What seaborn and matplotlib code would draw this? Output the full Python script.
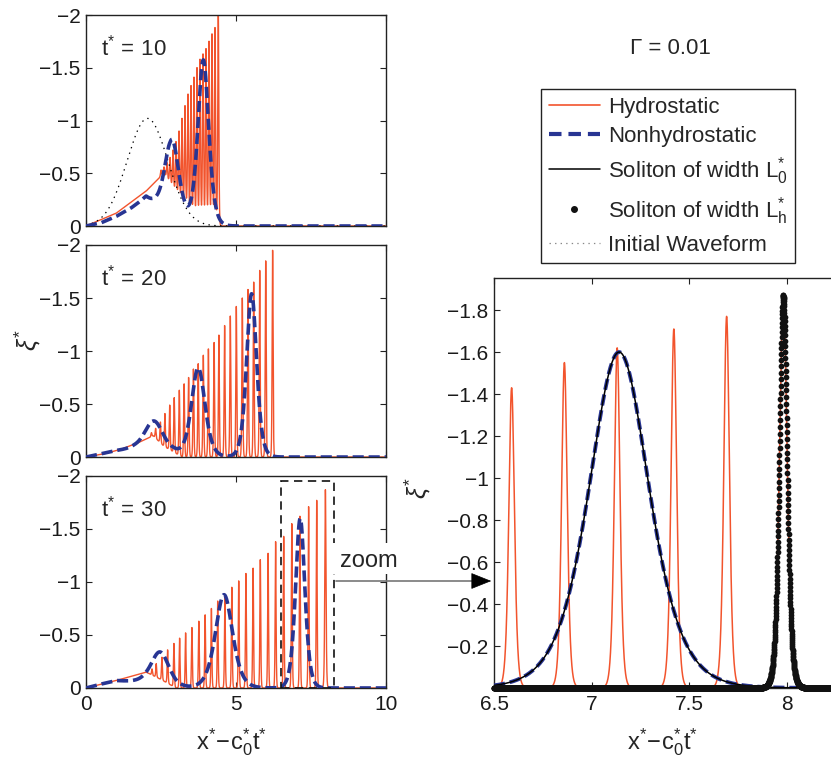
import numpy as np
import pandas as pd
import matplotlib
matplotlib.use("Agg")
import matplotlib.pyplot as plt
import seaborn as sns
from matplotlib.patches import Rectangle, FancyArrowPatch
from matplotlib.lines import Line2D
from matplotlib.ticker import FuncFormatter

# ------------------------------------------------------------------ data
# Hydrostatic solution: crest positions, crest values (xi*), crest widths,
# plus the slowly varying mean level under the wave train.
hyd10_x = [2.50, 2.60, 2.70, 2.80, 2.90, 3.00, 3.10, 3.20, 3.30, 3.40,
           3.50, 3.60, 3.70, 3.80, 3.90, 4.00, 4.10, 4.20, 4.30, 4.41]
hyd10_y = [-0.53, -0.56, -0.60, -0.65, -0.72, -0.80, -0.90, -1.02, -1.14, -1.25,
           -1.33, -1.41, -1.50, -1.58, -1.63, -1.68, -1.75, -1.82, -1.88, -2.05]
hyd10_w = [0.022] * 20
hyd10_bg_x = [0.0, 1.0, 2.0, 2.6, 3.0, 3.6, 4.41]
hyd10_bg_y = [0.0, -0.12, -0.33, -0.50, -0.32, -0.08, -0.05]

hyd20_x = [2.18, 2.32, 2.48, 2.63, 2.79, 2.94, 3.11, 3.27, 3.42, 3.58, 3.74, 3.91,
           4.08, 4.27, 4.43, 4.62, 4.81, 5.01, 5.21, 5.40, 5.59, 5.79, 5.99, 6.22]
hyd20_y = [-0.23, -0.27, -0.33, -0.41, -0.49, -0.56, -0.63, -0.69, -0.75, -0.83, -0.88, -0.96,
           -1.02, -1.08, -1.15, -1.24, -1.33, -1.42, -1.50, -1.58, -1.65, -1.76, -1.85, -1.95]
hyd20_w = [0.02] * 24
hyd20_bg_x = [0.0, 0.6, 1.13, 1.7, 2.24, 2.6, 3.2]
hyd20_bg_y = [0.0, -0.03, -0.07, -0.13, -0.20, -0.10, 0.0]

hyd30_x = [2.20, 2.34, 2.53, 2.72, 2.93, 3.12, 3.32, 3.53, 3.76, 3.97, 4.18, 4.39, 4.63,
           4.86, 5.09, 5.33, 5.57, 5.81, 6.07, 6.32, 6.59, 6.86, 7.13, 7.42, 7.69, 7.98]
hyd30_y = [-0.18, -0.23, -0.29, -0.36, -0.42, -0.47, -0.52, -0.57, -0.63, -0.69, -0.75, -0.82, -0.88,
           -0.95, -1.01, -1.08, -1.13, -1.21, -1.27, -1.38, -1.43, -1.55, -1.62, -1.71, -1.77, -1.87]
hyd30_w = [0.019] * 25 + [0.026]
hyd30_bg_x = [0.0, 1.0, 2.0, 2.5, 3.0]
hyd30_bg_y = [0.0, -0.07, -0.15, -0.08, 0.0]

# Nonhydrostatic solution: solitary-wave crests and mean level
nh10_x = [2.86, 3.91]
nh10_y = [-0.82, -1.57]
nh10_w = [0.32, 0.24]
nh10_bg_x = [0.0, 0.5, 1.0, 1.5, 2.0, 2.3, 2.8]
nh10_bg_y = [0.0, -0.03, -0.09, -0.17, -0.27, -0.18, 0.0]

nh20_x = [2.27, 3.74, 5.52]
nh20_y = [-0.34, -0.84, -1.54]
nh20_w = [0.40, 0.30, 0.22]
nh20_bg_x = [0.0, 0.5, 1.0, 1.6, 2.0, 2.9, 3.3]
nh20_bg_y = [0.0, -0.03, -0.06, -0.08, -0.08, -0.04, 0.0]

nh30_x = [2.47, 4.60, 7.14]
nh30_y = [-0.34, -0.88, -1.60]
nh30_w = [0.40, 0.38, 0.205]
nh30_bg_x = [0.0, 0.4, 1.0, 1.5, 2.0, 3.0]
nh30_bg_y = [0.0, -0.03, -0.07, -0.06, -0.05, 0.0]

# Initial waveform (shown at t* = 10): centre, value, spread
init_x0, init_y0, init_s = 2.05, -1.02, 0.68

# Reference solitons in the zoom panel: centre, value, width
sol_L0 = (7.14, -1.60, 0.205)
sol_Lh = (7.98, -1.87, 0.026)

times = [10, 20, 30]
left_yticks = [-2, -1.5, -1, -0.5, 0]
left_xticks = [0, 5, 10]
zoom_xticks = [6.5, 7, 7.5, 8]
zoom_yticks = [-1.8, -1.6, -1.4, -1.2, -1, -0.8, -0.6, -0.4, -0.2]
zoom_box = (6.5, 8.25, 0.0, -1.95)

# ------------------------------------------------------------------ style
ORANGE = "#F2542D"
BLUE = "#283593"

sns.set_theme(style="ticks")
plt.rcParams.update({
    "font.family": ["Liberation Sans", "DejaVu Sans"],
    "mathtext.fontset": "custom",
    "mathtext.rm": "Liberation Sans",
    "mathtext.it": "Liberation Sans:italic",
    "mathtext.bf": "Liberation Sans:bold",
    "lines.scale_dashes": False,
    "xtick.direction": "in",
    "ytick.direction": "in",
    "xtick.top": True,
    "ytick.right": True,
    "xtick.major.size": 4,
    "ytick.major.size": 4,
    "xtick.major.width": 0.8,
    "ytick.major.width": 0.8,
    "axes.linewidth": 1.0,
    "axes.edgecolor": "#222222",
    "xtick.color": "#222222",
    "ytick.color": "#222222",
    "xtick.labelcolor": "#1a1a1a",
    "ytick.labelcolor": "#1a1a1a",
    "xtick.labelsize": 15,
    "ytick.labelsize": 15,
    "xtick.major.pad": 5,
    "ytick.major.pad": 4,
})


def train(x, px, py, pw, bx, by):
    bg = np.interp(x, bx, by, left=0.0, right=0.0)
    y = bg.copy()
    for xi, yi, wi in zip(px, py, pw):
        base = np.interp(xi, bx, by, left=0.0, right=0.0)
        y += (yi - base) / np.cosh((x - xi) / wi) ** 2
    return y


def fmt(v, _):
    s = f"{v:g}"
    return s.replace("-", "\u2212")


fig = plt.figure(figsize=(8.31, 7.63), dpi=100)

xg = np.linspace(0, 10, 20001)
hyd_sets = [
    (hyd10_x, hyd10_y, hyd10_w, hyd10_bg_x, hyd10_bg_y),
    (hyd20_x, hyd20_y, hyd20_w, hyd20_bg_x, hyd20_bg_y),
    (hyd30_x, hyd30_y, hyd30_w, hyd30_bg_x, hyd30_bg_y),
]
nh_sets = [
    (nh10_x, nh10_y, nh10_w, nh10_bg_x, nh10_bg_y),
    (nh20_x, nh20_y, nh20_w, nh20_bg_x, nh20_bg_y),
    (nh30_x, nh30_y, nh30_w, nh30_bg_x, nh30_bg_y),
]
positions = [
    (0.1035, 0.7038, 0.361, 0.2765),
    (0.1035, 0.4010, 0.361, 0.2779),
    (0.1035, 0.0983, 0.361, 0.2779),
]

DASH = (8, 3.5)

for i, (t, pos) in enumerate(zip(times, positions)):
    ax = fig.add_axes(pos)
    hyd = train(xg, *hyd_sets[i])
    nh = train(xg, *nh_sets[i])
    df = pd.DataFrame({"x": xg, "hyd": hyd, "nh": nh})
    sns.lineplot(data=df, x="x", y="hyd", ax=ax, color=ORANGE, lw=1.0,
                 estimator=None, sort=False, zorder=2)
    if t == 10:
        init = init_y0 * np.exp(-((xg - init_x0) ** 2) / (2 * init_s ** 2))
        sns.lineplot(x=xg, y=init, ax=ax, color="black", lw=0.9,
                     linestyle=(0, (1, 3.2)), estimator=None, sort=False, zorder=2.5)
    sns.lineplot(data=df, x="x", y="nh", ax=ax, color=BLUE, lw=2.6,
                 estimator=None, sort=False, zorder=3)
    ax.lines[-1].set_dashes(DASH)
    ax.set_xlim(0, 10)
    ax.set_ylim(0, -2)
    ax.set_xticks(left_xticks)
    ax.set_yticks(left_yticks)
    ax.yaxis.set_major_formatter(FuncFormatter(fmt))
    ax.set_xlabel("")
    ax.set_ylabel("")
    if i < 2:
        ax.set_xticklabels([])
    ax.text(0.05, 0.845, r"$\mathregular{t^{*}\,=\,%d}$" % t, transform=ax.transAxes,
            fontsize=16, ha="left", va="center")
    if t == 30:
        x0, x1, y0, y1 = zoom_box
        ax.add_patch(Rectangle((x0, y0), x1 - x0, y1 - y0, fill=False,
                               edgecolor="#111111", lw=1.2, linestyle=(0, (6, 4)),
                               zorder=4))

# ---------------------------------------------------------- zoom panel
axr = fig.add_axes((0.5945, 0.0983, 0.4116, 0.5374))
xr = np.linspace(6.5, 8.25, 8001)
hyd_r = train(xr, *hyd_sets[2])
nh_r = train(xr, *nh_sets[2])
l0 = sol_L0[1] / np.cosh((xr - sol_L0[0]) / sol_L0[2]) ** 2
xd = np.arange(6.5, 8.2601, 0.0006)
lh = sol_Lh[1] / np.cosh((xd - sol_Lh[0]) / sol_Lh[2]) ** 2

sns.lineplot(x=xr, y=hyd_r, ax=axr, color=ORANGE, lw=1.1, estimator=None, sort=False, zorder=2)
sns.lineplot(x=xr, y=nh_r, ax=axr, color=BLUE, lw=2.8, estimator=None, sort=False, zorder=3)
axr.lines[-1].set_dashes(DASH)
sns.lineplot(x=xr, y=l0, ax=axr, color="black", lw=1.1, estimator=None, sort=False, zorder=4)
sns.scatterplot(x=xd, y=lh, ax=axr, s=17, color="#111111", linewidth=0, zorder=5, clip_on=False)
axr.set_xlim(6.5, 8.25)
axr.set_ylim(0, -1.953)
axr.set_xticks(zoom_xticks)
axr.set_yticks(zoom_yticks)
axr.xaxis.set_major_formatter(FuncFormatter(fmt))
axr.yaxis.set_major_formatter(FuncFormatter(fmt))
axr.spines["right"].set_visible(False)
axr.tick_params(right=False)
axr.set_xlabel("")
axr.set_ylabel("")

# ---------------------------------------------------------- labels
xlab = r"$\mathregular{x^{*}\!-\!c_0^{*}t^{*}}$"
fig.text(232 / 831, 1 - 742 / 763, xlab, fontsize=17, ha="center", va="center")
fig.text(663 / 831, 1 - 742 / 763, xlab, fontsize=17, ha="center", va="center")
fig.text(28 / 831, 1 - 340 / 763, r"$\xi^{*}$", fontsize=18, rotation=90, ha="center", va="center")
fig.text(418 / 831, 1 - 488 / 763, r"$\xi^{*}$", fontsize=18, rotation=90, ha="center", va="center")
fig.text(670 / 831, 1 - 48 / 763, "\u0393 = 0.01", fontsize=16, ha="center", va="center")

# zoom annotation
fig.add_artist(Rectangle((333 / 831, 1 - 574 / 763), 72 / 831, 31 / 763,
                         transform=fig.transFigure, facecolor="white", edgecolor="none", zorder=5))
fig.text(340 / 831, 1 - 561 / 763, "zoom", fontsize=17, ha="left", va="center", zorder=6)
fig.add_artist(Line2D([336 / 831, 482 / 831], [1 - 581 / 763, 1 - 581 / 763],
                      transform=fig.transFigure, color="#777777", lw=1.2, zorder=6))
fig.add_artist(FancyArrowPatch(
    (478 / 831, 1 - 581 / 763), (494 / 831, 1 - 581 / 763), transform=fig.transFigure,
    arrowstyle="-|>,head_length=0.95,head_width=0.38", mutation_scale=14,
    color="black", lw=0.5, zorder=7))

# legend
handles = [
    Line2D([], [], color=ORANGE, lw=1.2),
    Line2D([], [], color=BLUE, lw=3.0, dashes=(9, 5)),
    Line2D([], [], color="black", lw=1.1),
    Line2D([], [], color="#111111", marker="o", ls="none", markersize=4),
    Line2D([], [], color="#888888", lw=0.9, ls=(0, (1, 3))),
]
labels = [
    "Hydrostatic",
    "Nonhydrostatic",
    r"Soliton of width $\mathregular{L_0^{*}}$",
    r"Soliton of width $\mathregular{L_h^{*}}$",
    "Initial Waveform",
]
leg = fig.legend(handles, labels, loc="upper left", bbox_to_anchor=(541 / 831, 1 - 89 / 763),
                 bbox_transform=fig.transFigure, frameon=True, fancybox=False,
                 edgecolor="#222222", framealpha=1, fontsize=16, handlelength=2.3,
                 handletextpad=0.35, borderpad=0.35, labelspacing=0.36, borderaxespad=0)
leg.get_frame().set_linewidth(1.0)

fig.savefig("out.png", dpi=100)
